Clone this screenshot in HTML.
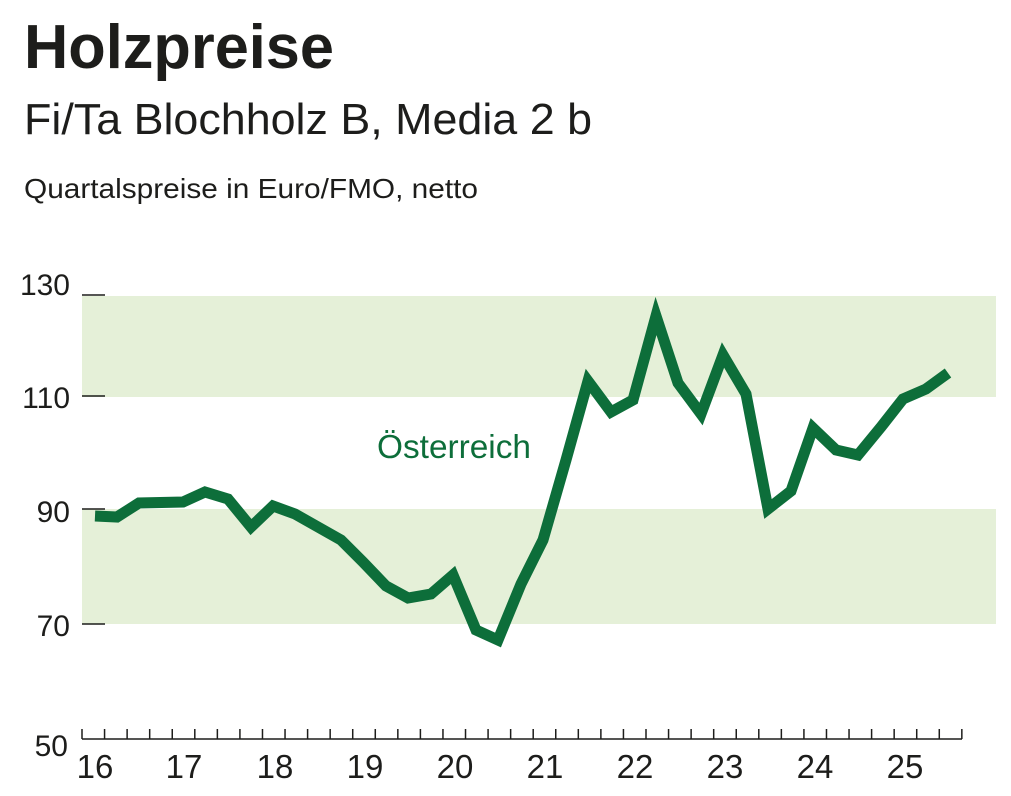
<!DOCTYPE html>
<html><head><meta charset="utf-8"><style>
body{margin:0;background:#fff;width:1011px;height:791px;overflow:hidden;font-family:"Liberation Sans",sans-serif;color:#1d1d1b}
</style></head><body>
<svg width="1011" height="791" viewBox="0 0 1011 791" xmlns="http://www.w3.org/2000/svg" font-family="Liberation Sans, sans-serif">
<text x="24" y="68" font-size="62" font-weight="bold" fill="#1d1d1b" textLength="310" lengthAdjust="spacingAndGlyphs">Holzpreise</text>
<text x="24" y="134" font-size="44" fill="#1d1d1b" textLength="568" lengthAdjust="spacingAndGlyphs">Fi/Ta Blochholz B, Media 2 b</text>
<text x="24" y="198" font-size="28" fill="#1d1d1b" textLength="454" lengthAdjust="spacingAndGlyphs">Quartalspreise in Euro/FMO, netto</text>
<rect x="82" y="296" width="914" height="101" fill="#e5f0d8"/>
<rect x="82" y="509" width="914" height="115" fill="#e5f0d8"/>
<g stroke="#1d1d1b" stroke-width="1.5">
<line x1="82" y1="295" x2="105" y2="295"/><line x1="82" y1="396" x2="105" y2="396"/>
<line x1="82" y1="509" x2="105" y2="509"/><line x1="82" y1="624" x2="105" y2="624"/>
<line x1="82" y1="739" x2="962" y2="739"/>
</g>
<g stroke="#1d1d1b" stroke-width="1.5" id="t"></g>
<g font-size="30" fill="#1d1d1b" text-anchor="end">
<text x="70" y="295">130</text><text x="70" y="408">110</text><text x="70" y="522">90</text><text x="70" y="636">70</text><text x="68" y="756">50</text>
</g>
<g font-size="33" fill="#1d1d1b" text-anchor="middle">
<text x="95" y="778">16</text><text x="184" y="778">17</text><text x="275" y="778">18</text><text x="365" y="778">19</text><text x="455" y="778">20</text><text x="545" y="778">21</text><text x="635" y="778">22</text><text x="725" y="778">23</text><text x="815" y="778">24</text><text x="905" y="778">25</text>
</g>
<polyline fill="none" stroke="#0d6e3a" stroke-width="11" stroke-linejoin="miter" points="95,516 117,517 139,503 183,502 205,492 228,499 251,527 273,506 295,514 318,527 341,540 363,562 386,586 408,598 431,594 453,575 476,630 498,640 521,584 543,540 566,460 588,381 611,412 633,400 656,316 678,383 701,414 723,355 746,394 768,509 791,491 813,428 836,450 858,455 881,427 903,399 926,389 948,373"/>
<text x="377" y="458" font-size="33" fill="#0d6e3a" textLength="154" lengthAdjust="spacingAndGlyphs">Österreich</text>
</svg>
<script>
var g=document.getElementById('t');
for(var i=0;i<=39;i++){var x=82+22.56*i;var l=document.createElementNS('http://www.w3.org/2000/svg','line');l.setAttribute('x1',x);l.setAttribute('x2',x);l.setAttribute('y1',729);l.setAttribute('y2',739);g.appendChild(l);}
</script>
</body></html>
